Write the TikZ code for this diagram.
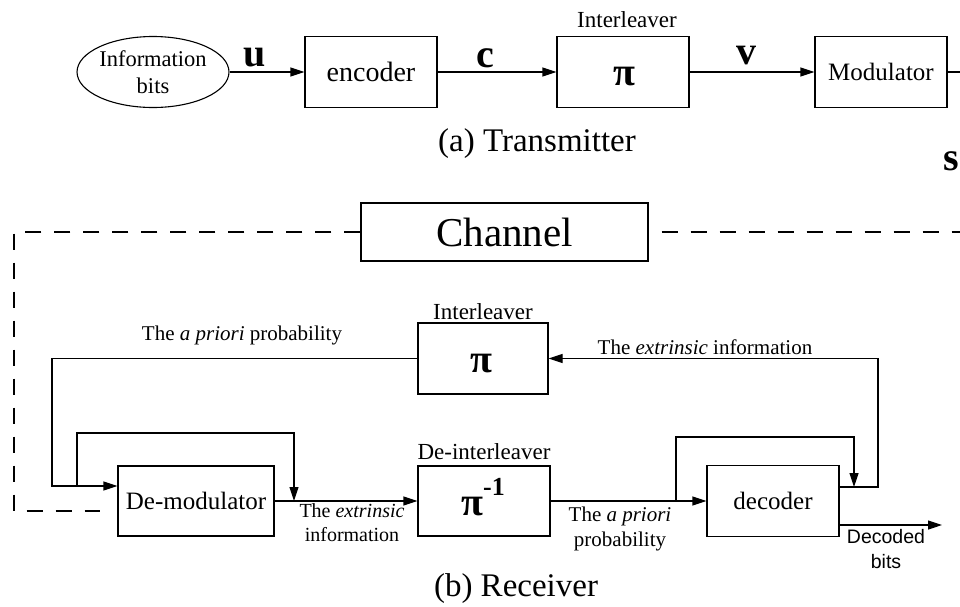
\documentclass[tikz,border=0pt]{standalone}
\usepackage{fontspec}
\setmainfont{Liberation Serif}
\setsansfont{Liberation Sans}
\usetikzlibrary{arrows.meta,shapes.geometric,calc}

\begin{document}
\begin{tikzpicture}[x=1pt,y=-1pt,
  line width=1.1pt,
  blk/.style={draw, minimum width=132pt, minimum height=71pt, inner sep=0pt,
    font=\fontsize{25}{30}\selectfont},
  arr/.style={-{Triangle[length=14pt,width=9pt]}},
  lbl/.style={inner sep=0pt, font=\fontsize{21}{25}\selectfont},
  sml/.style={inner sep=0pt, align=center, font=\fontsize{20}{24}\selectfont},
  ttl/.style={inner sep=0pt, font=\fontsize{23}{27}\selectfont},
  sym/.style={inner sep=0pt, font=\fontsize{40}{44}\selectfont\bfseries},
  pisym/.style={inner sep=0pt, anchor=base, font=\fontsize{40}{44}\selectfont\bfseries},
  captxt/.style={inner sep=0pt, font=\fontsize{33}{36}\selectfont},
  chdash/.style={dash pattern=on 16pt off 13pt},
]
\useasboundingbox (0,0) rectangle (960,606);

% ---------------- transmitter ----------------
\node[draw, ellipse, minimum width=132pt, minimum height=71pt, inner sep=0pt,
  align=center, font=\fontsize{22.5}{27}\selectfont] (info) at (153,72) {Information\\bits};
\node[blk, font=\fontsize{28}{32}\selectfont] (enc) at (371,72) {encoder};
\node[blk] (intl) at (623,72) {};
\node[pisym] (intlpi) at (624,85) {π};
\node[ttl] (intlname) at (627,20) {Interleaver};
\node[blk] (mod) at (881,72) {Modulator};
\coordinate (txout) at (960,72);

\node[sym] (lu) at (255,58) {u};
\node[sym] (lc) at (485,58) {c};
\node[sym] (lv) at (746,56) {v};
\node[sym, anchor=east] (ls) at (959.5,161) {s};

\draw[arr] (info) -- (enc);
\draw[arr] (enc) -- (intl);
\draw[arr] (intl) -- (mod);
\draw (mod) -- (txout);

\node[captxt] (capa) at (537,144) {(a) Transmitter};

% ---------------- channel ----------------
\node[draw, minimum width=287pt, minimum height=58pt, inner sep=0pt,
  font=\fontsize{41}{44}\selectfont] (chan) at (504.5,232) {Channel};
\coordinate (chTL) at (14,232);
\coordinate (chBL) at (14,511);
\coordinate (chEnd) at (100,511);
\coordinate (chR) at (960,232);
\draw[chdash] (chan.west) -- (chTL) -- (chBL) -- (chEnd);
\draw[chdash, dash phase=16pt] (chan.east) -- (chR);

% ---------------- receiver ----------------
\node[blk, minimum width=130pt] (il2) at (483,358.5) {};
\node[pisym] (il2pi) at (481,372) {π};
\node[ttl] (il2name) at (483,312) {Interleaver};

\node[blk, minimum width=156pt, minimum height=70pt] (demod) at (196,501) {De-modulator};
\node[blk, minimum height=70pt] (deint) at (484,501) {};
\node[pisym] (deintpi) at (483,515) {π\raisebox{20pt}{\fontsize{26}{26}\selectfont -1}};
\node[ttl] (deintname) at (484,452) {De-interleaver};
\node[blk] (dec) at (773,501) {decoder};

\node[lbl] (apri1) at (242,335) {The \textit{a priori} probability};
\node[lbl] (ext1) at (705,347) {The \textit{extrinsic} information};
\node[sml] (ext2) at (352,523) {The \textit{extrinsic}\\information};
\node[sml, font=\fontsize{21}{25}\selectfont] (apri2) at (620,529) {The \textit{a priori}\\probability};
\node[sml, font=\sffamily\fontsize{19.5}{25}\selectfont] (decb) at (886,549) {Decoded\\bits};
\node[captxt] (capb) at (516,589) {(b) Receiver};

% a priori feedback into the de-modulator
\coordinate (apC) at (52,486);
\draw[arr] (il2.west) -| (apC) -- (apC -| demod.west);
\coordinate (lpA) at (77,486);
\coordinate (lpB) at (294,433);
\draw[arr] (lpA) |- (lpB) -- (lpB |- demod.east);

\draw[arr] (demod) -- (deint);
\draw[arr] (deint) -- (dec);

% decoder side loops
\coordinate (dA) at (676,501);
\coordinate (dB) at (854,437);
\coordinate (decO) at ($(dec.east)+(0,-14)$);
\draw[arr] (dA) |- (dB) -- (dB |- decO);
\coordinate (exR) at (878,487);
\draw[arr] (decO) -- (exR) |- (il2.east);

\coordinate (decB) at ($(dec.east)+(0,24)$);
\coordinate (bitsEnd) at (942,525);
\draw[arr] (decB) -- (bitsEnd);
\end{tikzpicture}
\end{document}
